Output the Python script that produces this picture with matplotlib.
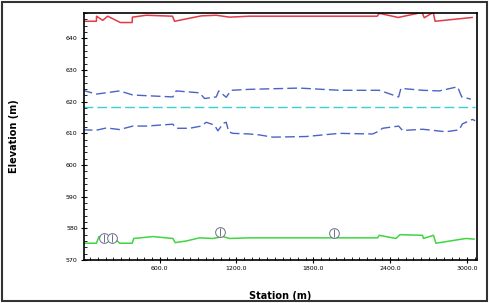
import matplotlib
matplotlib.use("Agg")
import matplotlib.pyplot as plt
from matplotlib.patches import Rectangle
from matplotlib.ticker import MultipleLocator, FormatStrFormatter

# ---- data (station m, elevation m) ----
red_x = [0, 107, 108, 156, 195, 294, 386, 388, 496, 701, 717, 925, 1042, 1146, 1302,
         2299, 2315, 2463, 2650, 2666, 2736, 2751, 3040]
red_y = [645.4, 645.4, 647.0, 645.7, 647.0, 645.0, 645.0, 646.7, 647.3, 647.0, 645.4,
         647.1, 647.3, 646.7, 647.0, 647.0, 647.9, 646.6, 648.2, 646.5, 648.2, 645.4, 646.6]

up_x = [0, 107, 288, 392, 704, 730, 912, 951, 1042, 1062, 1120, 1159, 1302, 1691,
        2003, 2315, 2466, 2484, 2653, 2783, 2926, 2959, 3030]
up_y = [623.6, 622.4, 623.4, 622.1, 621.5, 623.4, 622.8, 621.0, 621.5, 623.4, 621.4,
        623.6, 623.9, 624.3, 623.6, 623.6, 621.5, 624.2, 623.6, 623.4, 624.7, 621.5, 620.8]

mid_x = [0, 3063]
mid_y = [618.2, 618.2]

lo_x = [0, 107, 185, 288, 392, 496, 704, 730, 834, 925, 964, 1029, 1055, 1099, 1120,
        1140, 1172, 1302, 1380, 1483, 1744, 2003, 2263, 2302, 2341, 2466, 2497, 2653,
        2835, 2938, 2964, 3042, 3063]
lo_y = [611.1, 611.0, 611.7, 611.2, 612.3, 612.3, 612.9, 611.6, 611.6, 612.3, 613.5,
        612.6, 610.8, 613.2, 613.5, 610.5, 610.0, 609.8, 609.5, 608.8, 609.0, 610.0,
        609.8, 610.5, 611.6, 612.3, 610.9, 611.3, 610.5, 611.1, 613.0, 614.4, 614.0]

gr_x = [0, 107, 127, 263, 288, 387, 398, 548, 704, 722, 808, 912, 1016, 1094, 1146,
        1302, 2302, 2315, 2445, 2476, 2653, 2660, 2738, 2757, 2991, 3055]
gr_y = [575.3, 575.3, 577.4, 576.3, 575.3, 575.3, 576.8, 577.4, 576.8, 575.5, 576.0,
        577.0, 576.8, 577.4, 576.8, 577.0, 577.0, 577.8, 576.8, 578.0, 577.8, 576.8,
        577.8, 575.3, 576.8, 576.6]

mark_x = [169, 231, 1073, 1962]
mark_y = [577.1, 577.1, 579.0, 578.6]

fig = plt.figure(figsize=(4.9, 3.03), dpi=100)
ax = fig.add_axes([0.1714, 0.1419, 0.8021, 0.8151])

ax.plot(red_x, red_y, color="#e23a46", lw=1.1)
ax.plot(up_x, up_y, color="#4a63c8", lw=1.0, ls=(0, (7, 3)))
ax.plot(mid_x, mid_y, color="#3ccfd6", lw=1.0, ls=(0, (7, 3)))
ax.plot(lo_x, lo_y, color="#4a63c8", lw=1.0, ls=(0, (7, 3)))
ax.plot(gr_x, gr_y, color="#3fd63f", lw=1.1)
ax.plot(mark_x, mark_y, ls="none", marker="o", ms=7, mfc="white", mec="#6a7088", mew=0.7)
ax.plot(mark_x, mark_y, ls="none", marker="|", ms=6, mec="#6a7088", mew=0.7)

ax.set_xlim(10, 3078)
ax.set_ylim(570, 648)
ax.xaxis.set_major_locator(MultipleLocator(600))
ax.xaxis.set_minor_locator(MultipleLocator(60))
ax.yaxis.set_major_locator(MultipleLocator(10))
ax.yaxis.set_minor_locator(MultipleLocator(2))
ax.xaxis.set_major_formatter(FormatStrFormatter("%.1f"))
ax.yaxis.set_major_formatter(FormatStrFormatter("%d"))
ax.tick_params(which="major", direction="inout", length=5, width=0.8, labelsize=4.5,
               colors="black", pad=2)
ax.tick_params(which="minor", direction="in", length=2.5, width=0.6)
for s in ax.spines.values():
    s.set_linewidth(1.2)
    s.set_color("black")

ax.set_xlabel("Station (m)", fontsize=7, fontweight="bold", labelpad=14)
ax.set_ylabel("Elevation (m)", fontsize=7, fontweight="bold", labelpad=34)

fig.patches.append(Rectangle((0.004, 0.006), 0.99, 0.988, transform=fig.transFigure,
                             fill=False, edgecolor="#333333", lw=1.5))

fig.savefig("out.png", dpi=100)
